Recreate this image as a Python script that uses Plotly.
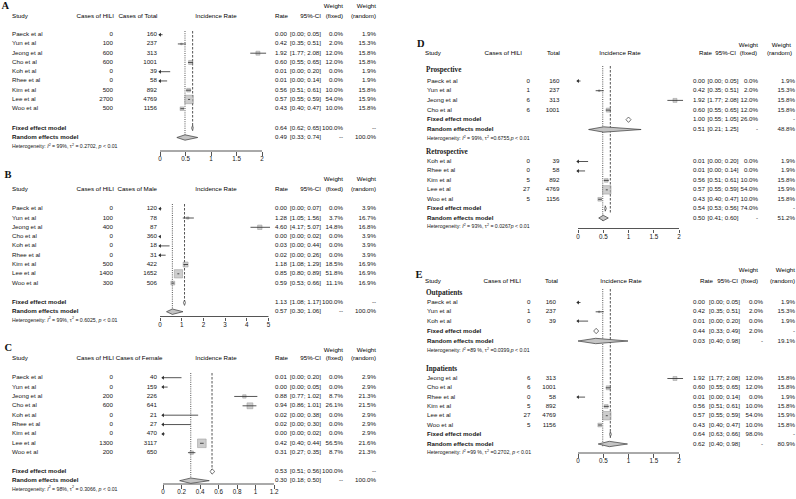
import math
import plotly.graph_objects as go

W, H = 796, 499

# ======================= DATA =======================
# Panel A - all patients
A_study = ["Paeck et al", "Yun et al", "Jeong et al", "Cho et al", "Koh et al",
           "Rhee et al", "Kim et al", "Lee et al", "Woo et al"]
A_cases = [0, 100, 600, 600, 0, 0, 500, 2700, 500]
A_total = [160, 237, 313, 1001, 39, 58, 892, 4769, 1156]
A_rate = [0.00, 0.42, 1.92, 0.60, 0.01, 0.01, 0.56, 0.57, 0.43]
A_lo = [0.00, 0.35, 1.77, 0.55, 0.00, 0.00, 0.51, 0.55, 0.40]
A_hi = [0.05, 0.51, 2.08, 0.65, 0.20, 0.14, 0.61, 0.59, 0.47]
A_wf = [0.0, 2.0, 12.0, 12.0, 0.0, 0.0, 10.0, 54.0, 10.0]
A_wr = [1.9, 15.3, 15.8, 15.8, 1.9, 1.9, 15.8, 15.9, 15.8]
A_sum_rate = [0.64, 0.49]          # fixed, random
A_sum_lo = [0.62, 0.33]
A_sum_hi = [0.65, 0.74]
A_sum_wf = ["100.0%", "--"]
A_sum_wr = ["--", "100.0%"]
A_het = "Heterogeneity: <i>I</i><sup>2</sup> = 99%, τ<sup>2</sup> = 0.2702, <i>p</i> < 0.01"
A_ticks = [0, 0.5, 1, 1.5, 2]

# Panel B - male
B_study = A_study
B_cases = [0, 100, 400, 0, 0, 0, 500, 1400, 300]
B_total = [120, 78, 87, 360, 18, 31, 422, 1652, 506]
B_rate = [0.00, 1.28, 4.60, 0.00, 0.03, 0.02, 1.18, 0.85, 0.59]
B_lo = [0.00, 1.05, 4.17, 0.00, 0.00, 0.00, 1.08, 0.80, 0.53]
B_hi = [0.07, 1.56, 5.07, 0.02, 0.44, 0.26, 1.29, 0.89, 0.66]
B_wf = [0.0, 3.7, 14.8, 0.0, 0.0, 0.0, 18.5, 51.8, 11.1]
B_wr = [3.9, 16.7, 16.8, 3.9, 3.9, 3.9, 16.9, 16.9, 16.9]
B_sum_rate = [1.13, 0.57]
B_sum_lo = [1.08, 0.30]
B_sum_hi = [1.17, 1.06]
B_sum_wf = ["100.0%", "--"]
B_sum_wr = ["--", "100.0%"]
B_het = "Heterogeneity: <i>I</i><sup>2</sup> = 99%, τ<sup>2</sup> = 0.6025, <i>p</i> < 0.01"
B_ticks = [0, 1, 2, 3, 4, 5]

# Panel C - female
C_study = A_study
C_cases = [0, 0, 200, 600, 0, 0, 0, 1300, 200]
C_total = [40, 159, 226, 641, 21, 27, 470, 3117, 650]
C_rate = [0.01, 0.00, 0.88, 0.94, 0.02, 0.02, 0.00, 0.42, 0.31]
C_lo = [0.00, 0.00, 0.77, 0.86, 0.00, 0.00, 0.00, 0.40, 0.27]
C_hi = [0.20, 0.05, 1.02, 1.01, 0.38, 0.30, 0.02, 0.44, 0.35]
C_wf = [0.0, 0.0, 8.7, 26.1, 0.0, 0.0, 0.0, 56.5, 8.7]
C_wr = [2.9, 2.9, 21.3, 21.5, 2.9, 2.9, 2.9, 21.6, 21.3]
C_sum_rate = [0.53, 0.30]
C_sum_lo = [0.51, 0.18]
C_sum_hi = [0.56, 0.50]
C_sum_wf = ["100.0%", "--"]
C_sum_wr = ["--", "100.0%"]
C_het = "Heterogeneity: <i>I</i><sup>2</sup> = 98%, τ<sup>2</sup> = 0.3066, <i>p</i> < 0.01"
C_ticks = [0, 0.2, 0.4, 0.6, 0.8, 1, 1.2]

# Panel D - study design subgroups
D_pro_label = "Prospective"
D_pro_study = ["Paeck et al", "Yun et al", "Jeong et al", "Cho et al"]
D_pro_cases = [0, 1, 6, 6]
D_pro_total = [160, 237, 313, 1001]
D_pro_rate = [0.00, 0.42, 1.92, 0.60]
D_pro_lo = [0.00, 0.35, 1.77, 0.55]
D_pro_hi = [0.05, 0.51, 2.08, 0.65]
D_pro_wf = [0.0, 2.0, 12.0, 12.0]
D_pro_wr = [1.9, 15.3, 15.8, 15.8]
D_pro_sum_rate = [1.00, 0.51]
D_pro_sum_lo = [0.55, 0.21]
D_pro_sum_hi = [1.05, 1.25]
D_pro_sum_wf = ["26.0%", "-"]
D_pro_sum_wr = ["-", "48.8%"]
D_pro_dia_c = [1.00, 0.51]         # diamonds as drawn in the picture
D_pro_dia_lo = [0.95, 0.21]
D_pro_dia_hi = [1.05, 1.25]
D_pro_het = "Heterogeneity: <i>I</i><sup>2</sup> = 99%, τ<sup>2</sup> =0.6755,<i>p</i> < 0.01"

D_ret_label = "Retrospective"
D_ret_study = ["Koh et al", "Rhee et al", "Kim et al", "Lee et al", "Woo et al"]
D_ret_cases = [0, 0, 5, 27, 5]
D_ret_total = [39, 58, 892, 4769, 1156]
D_ret_rate = [0.01, 0.01, 0.56, 0.57, 0.43]
D_ret_lo = [0.00, 0.00, 0.51, 0.55, 0.40]
D_ret_hi = [0.20, 0.14, 0.61, 0.59, 0.47]
D_ret_wf = [0.0, 0.0, 10.0, 54.0, 10.0]
D_ret_wr = [1.9, 1.9, 15.8, 15.9, 15.8]
D_ret_sum_rate = [0.54, 0.50]
D_ret_sum_lo = [0.53, 0.41]
D_ret_sum_hi = [0.56, 0.60]
D_ret_sum_wf = ["74.0%", "-"]
D_ret_sum_wr = ["-", "51.2%"]
D_ret_het = "Heterogeneity: <i>I</i><sup>2</sup> = 93%, τ<sup>2</sup> = 0.0267<i>p</i> < 0.01"
D_overall = [0.64, 0.49]           # reference lines: fixed, random
D_ticks = [0, 0.5, 1, 1.5, 2]

# Panel E - setting subgroups
E_out_label = "Outpatients"
E_out_study = ["Paeck et al", "Yun et al", "Koh et al"]
E_out_cases = [0, 1, 0]
E_out_total = [160, 237, 39]
E_out_rate = [0.00, 0.42, 0.01]
E_out_lo = [0.00, 0.35, 0.00]
E_out_hi = [0.05, 0.51, 0.20]
E_out_wf = [0.0, 2.0, 0.0]
E_out_wr = [1.9, 15.3, 1.9]
E_out_sum_rate = [0.44, 0.03]
E_out_sum_lo = [0.33, 0.40]
E_out_sum_hi = [0.49, 0.98]
E_out_sum_wf = ["2.0%", "-"]
E_out_sum_wr = ["-", "19.1%"]
E_out_dia_c = [0.36, 0.35]
E_out_dia_lo = [0.31, 0.00]
E_out_dia_hi = [0.41, 0.99]
E_out_het = "Heterogeneity: <i>I</i><sup>2</sup> =89 %, τ<sup>2</sup> =0.0399,<i>p</i> < 0.01"

E_in_label = "Inpatients"
E_in_study = ["Jeong et al", "Cho et al", "Rhee et al", "Kim et al", "Lee et al", "Woo et al"]
E_in_cases = [6, 6, 0, 5, 27, 5]
E_in_total = [313, 1001, 58, 892, 4769, 1156]
E_in_rate = [1.92, 0.60, 0.01, 0.56, 0.57, 0.43]
E_in_lo = [1.77, 0.55, 0.00, 0.51, 0.55, 0.40]
E_in_hi = [2.08, 0.65, 0.14, 0.61, 0.59, 0.47]
E_in_wf = [12.0, 12.0, 0.0, 10.0, 54.0, 10.0]
E_in_wr = [15.8, 15.8, 1.9, 15.8, 15.9, 15.8]
E_in_sum_rate = [0.64, 0.62]
E_in_sum_lo = [0.63, 0.40]
E_in_sum_hi = [0.66, 0.98]
E_in_sum_wf = ["98.0%", "-"]
E_in_sum_wr = ["-", "80.9%"]
E_in_het = "Heterogeneity: <i>I</i><sup>2</sup> =99 %, τ<sup>2</sup> =0.2702, <i>p</i> < 0.01"
E_overall = [0.64, 0.49]
E_ticks = [0, 0.5, 1, 1.5, 2]

SUM_LABELS = ["Fixed effect model", "Random effects model"]
HEAD_LEFT = ["Study", "Cases of HILI", None, "Incidence Rate", "Rate", "95%-CI", "(fixed)", "(random)"]
THIRD_HEAD = {"A": "Cases of Total", "B": "Cases of Male", "C": "Cases of Female",
              "D": "Total", "E": "Total"}

# ======================= STYLE =======================
SANS = "Liberation Sans, Arial, sans-serif"
SERIF = "Liberation Serif, Times New Roman, serif"
TXT = "#161616"
LINE = "#2a2a2a"
FS = 6.2
traces = []


def txt(xs, ys, texts, anchor, size=FS, family=SANS, color=TXT):
    pos = {"l": "middle right", "r": "middle left", "c": "middle center"}[anchor]
    traces.append(go.Scatter(x=list(xs), y=list(ys), text=list(texts), mode="text",
                             textposition=pos,
                             textfont=dict(size=size, family=family, color=color),
                             xaxis="x6", yaxis="y", hoverinfo="skip",
                             showlegend=False, cliponaxis=False))


def rows(start, step, n):
    return [start + step * i for i in range(n)]


def study_marks(ax, ys, rate, lo, hi, wf):
    # squares (weight-proportional)
    sx, sy, ss = [], [], []
    for r, y, w in zip(rate, ys, wf):
        if w > 0:
            sx.append(r); sy.append(y); ss.append(1.15 * math.sqrt(w))
    traces.append(go.Scatter(x=sx, y=sy, mode="markers", xaxis=ax, yaxis="y",
                             marker=dict(symbol="square", size=ss, color="#b8b8b8",
                                         line=dict(color="#6a6a6a", width=0.5)),
                             hoverinfo="skip", showlegend=False, cliponaxis=False))
    # CI lines
    lx, ly = [], []
    for y, l, h in zip(ys, lo, hi):
        lx += [l, h, None]; ly += [y, y, None]
    traces.append(go.Scatter(x=lx, y=ly, mode="lines", xaxis=ax, yaxis="y",
                             line=dict(color=LINE, width=0.8),
                             hoverinfo="skip", showlegend=False))
    # arrows for CIs touching the lower limit
    axx = [l for l in lo if l <= 0]
    ayy = [y for l, y in zip(lo, ys) if l <= 0]
    traces.append(go.Scatter(x=axx, y=ayy, mode="markers", xaxis=ax, yaxis="y",
                             marker=dict(symbol="triangle-left", size=3.4, color=LINE,
                                         line=dict(width=0)),
                             hoverinfo="skip", showlegend=False, cliponaxis=False))


def diamond(ax, c, l, h, y, fill, hh=2.7):
    traces.append(go.Scatter(x=[l, c, h, c, l], y=[y, y - hh, y, y + hh, y],
                             mode="lines", fill="toself", fillcolor=fill,
                             line=dict(color="#3a3a3a", width=0.7),
                             xaxis=ax, yaxis="y", hoverinfo="skip", showlegend=False))


def vline(ax, x, y0, y1, dash):
    traces.append(go.Scatter(x=[x, x], y=[y0, y1], mode="lines", xaxis=ax, yaxis="y",
                             line=dict(color=LINE, width=0.8, dash=dash),
                             hoverinfo="skip", showlegend=False))


layout_axes = {}


def forest_axis(k, x0, scale, r0, r1, ticks, axis_y):
    name = "xaxis" if k == 1 else f"xaxis{k}"
    layout_axes[name] = dict(
        domain=[(x0 + r0 * scale) / W, (x0 + r1 * scale) / W], range=[r0, r1],
        anchor="free", position=1 - axis_y / H,
        tickmode="array", tickvals=ticks, ticktext=[f"{t:g}" for t in ticks],
        ticks="outside", ticklen=3.5, tickwidth=0.8, tickcolor=LINE,
        ticklabelstandoff=-2,
        showline=False, showgrid=False, zeroline=False, fixedrange=True,
        tickfont=dict(size=6.3, family=SANS, color=TXT))
    ax = "x" if k == 1 else f"x{k}"
    traces.append(go.Scatter(x=[ticks[0], ticks[-1]], y=[axis_y, axis_y], mode="lines",
                             xaxis=ax, yaxis="y", line=dict(color=LINE, width=0.8),
                             hoverinfo="skip", showlegend=False))
    return ax


def fmt_ci(l, h):
    return f"[{l:.2f}; {h:.2f}]"


def group_text(cols, ys, study, cases, total, rate, lo, hi, wf, wr):
    txt([cols["name"]] * len(ys), ys, study, "l")
    txt([cols["cases"]] * len(ys), ys, [str(v) for v in cases], "r")
    txt([cols["total"]] * len(ys), ys, [str(v) for v in total], "r")
    txt([cols["rate"]] * len(ys), ys, [f"{v:.2f}" for v in rate], "r")
    txt([cols["ci"]] * len(ys), ys, [fmt_ci(l, h) for l, h in zip(lo, hi)], "r")
    txt([cols["wf"]] * len(ys), ys, [f"{v:.1f}%" for v in wf], "r")
    txt([cols["wr"]] * len(ys), ys, [f"{v:.1f}%" for v in wr], "r")


def summary_text(cols, ys, rate, lo, hi, wf, wr, het, het_y):
    txt([cols["name"]] * 2, ys, [f"<b>{s}</b>" for s in SUM_LABELS], "l")
    txt([cols["rate"]] * 2, ys, [f"{v:.2f}" for v in rate], "r")
    txt([cols["ci"]] * 2, ys, [fmt_ci(l, h) for l, h in zip(lo, hi)], "r")
    txt([cols["wf"]] * 2, ys, wf, "r")
    txt([cols["wr"]] * 2, ys, wr, "r")
    txt([cols["name"]], [het_y], [het], "l", size=5.2)


def headers(letter, letter_xy, hx, head_y, weight_y):
    txt([letter_xy[0]], [letter_xy[1]], [f"<b>{letter}</b>"], "l", size=10.5, family=SERIF,
        color="#111")
    labels = list(HEAD_LEFT)
    labels[2] = THIRD_HEAD[letter]
    for lab, (x, a) in zip(labels, hx["cols"]):
        txt([x], [head_y], [lab], a, size=6.2, color="#000")
    txt([hx["w1"], hx["w2"]], [weight_y] * 2, ["Weight"] * 2, "r", size=6.2, color="#000")


# ======================= LEFT PANELS (A, B, C) =======================
left_cols = dict(name=12, cases=113, total=157, rate=287, ci=321, wf=343, wr=376)


def left_head(third_right):
    return dict(cols=[(12, "l"), (114, "r"), (third_right, "r"), (216, "c"), (288, "r"),
                      (321, "r"), (343, "r"), (376, "r")], w1=343, w2=376)


left_panels = [
    dict(k=1, letter="A", lxy=(1.5, 6.5), head_y=16.7, weight_y=6.7, third=157.5,
         first=34.7, step=9.25, fixed_y=128, random_y=137.5, het_y=146.5, axis_y=151,
         x0=160, scale=51, r=(-0.22, 2.25), ticks=A_ticks, line_top=31,
         d=(A_study, A_cases, A_total, A_rate, A_lo, A_hi, A_wf, A_wr),
         s=(A_sum_rate, A_sum_lo, A_sum_hi, A_sum_wf, A_sum_wr), het=A_het),
    dict(k=2, letter="B", lxy=(4.5, 175), head_y=189.3, weight_y=179.3, third=157,
         first=208.7, step=9.3, fixed_y=302.7, random_y=311.7, het_y=320.3, axis_y=316.5,
         x0=160, scale=21.7, r=(-0.5, 5.5), ticks=B_ticks, line_top=204,
         d=(B_study, B_cases, B_total, B_rate, B_lo, B_hi, B_wf, B_wr),
         s=(B_sum_rate, B_sum_lo, B_sum_hi, B_sum_wf, B_sum_wr), het=B_het),
    dict(k=3, letter="C", lxy=(4.5, 348.5), head_y=358.3, weight_y=350, third=162.5,
         first=377.7, step=9.37, fixed_y=471.5, random_y=480.7, het_y=489.3, axis_y=484,
         x0=163, scale=92.5, r=(-0.12, 1.3), ticks=C_ticks, line_top=373,
         d=(C_study, C_cases, C_total, C_rate, C_lo, C_hi, C_wf, C_wr),
         s=(C_sum_rate, C_sum_lo, C_sum_hi, C_sum_wf, C_sum_wr), het=C_het),
]

for p in left_panels:
    study, cases, total, rate, lo, hi, wf, wr = p["d"]
    srate, slo, shi, swf, swr = p["s"]
    ys = rows(p["first"], p["step"], len(study))
    ax = forest_axis(p["k"], p["x0"], p["scale"], p["r"][0], p["r"][1], p["ticks"], p["axis_y"])
    headers(p["letter"], p["lxy"], left_head(p["third"]), p["head_y"], p["weight_y"])
    vline(ax, srate[0], p["line_top"], p["fixed_y"], "2.5px,1.5px")
    vline(ax, srate[1], p["line_top"], p["random_y"] + 2.5, "1px,1.2px")
    study_marks(ax, ys, rate, lo, hi, wf)
    diamond(ax, srate[0], slo[0], shi[0], p["fixed_y"], "white")
    diamond(ax, srate[1], slo[1], shi[1], p["random_y"], "#c4c4c4")
    group_text(left_cols, ys, study, cases, total, rate, lo, hi, wf, wr)
    summary_text(left_cols, [p["fixed_y"], p["random_y"]], srate, slo, shi, swf, swr,
                 p["het"], p["het_y"])

# ======================= RIGHT PANELS (D, E) =======================
right_panels = [
    dict(k=4, letter="D", lxy=(417, 44.5), head_y=53.3, weight_y=45,
         cols=dict(name=427, cases=530, total=559.5, rate=705, ci=738.5, wf=758, wr=795),
         head=dict(cols=[(425, "l"), (522, "r"), (560, "r"), (620, "c"), (712, "r"),
                         (736, "r"), (757, "r"), (792, "r")], w1=758, w2=791),
         x0=578, scale=50.5, r=(-0.22, 2.3), ticks=D_ticks, axis_y=228.5,
         overall=D_overall, line_top=66, dash_bot=213, dot_bot=222,
         groups=[
             dict(label=D_pro_label, label_y=70.5, first=81, step=9.7,
                  fixed_y=119.7, random_y=129.5, het_y=138.5,
                  d=(D_pro_study, D_pro_cases, D_pro_total, D_pro_rate, D_pro_lo,
                     D_pro_hi, D_pro_wf, D_pro_wr),
                  s=(D_pro_sum_rate, D_pro_sum_lo, D_pro_sum_hi, D_pro_sum_wf, D_pro_sum_wr),
                  dia=(D_pro_dia_c, D_pro_dia_lo, D_pro_dia_hi), het=D_pro_het),
             dict(label=D_ret_label, label_y=152, first=161.5, step=9.45,
                  fixed_y=208.5, random_y=218, het_y=226.5,
                  d=(D_ret_study, D_ret_cases, D_ret_total, D_ret_rate, D_ret_lo,
                     D_ret_hi, D_ret_wf, D_ret_wr),
                  s=(D_ret_sum_rate, D_ret_sum_lo, D_ret_sum_hi, D_ret_sum_wf, D_ret_sum_wr),
                  dia=(D_ret_sum_rate, D_ret_sum_lo, D_ret_sum_hi), het=D_ret_het),
         ]),
    dict(k=5, letter="E", lxy=(415.5, 275), head_y=281.7, weight_y=270,
         cols=dict(name=427, cases=530.5, total=556, rate=705, ci=740, wf=763, wr=795),
         head=dict(cols=[(425, "l"), (521, "r"), (558, "r"), (621, "c"), (713, "r"),
                         (738, "r"), (758, "r"), (795, "r")], w1=758, w2=795),
         x0=578, scale=50.5, r=(-0.22, 2.3), ticks=E_ticks, axis_y=453,
         overall=E_overall, line_top=289, dash_bot=438, dot_bot=447,
         groups=[
             dict(label=E_out_label, label_y=293, first=302.5, step=9.3,
                  fixed_y=331, random_y=341, het_y=350.5,
                  d=(E_out_study, E_out_cases, E_out_total, E_out_rate, E_out_lo,
                     E_out_hi, E_out_wf, E_out_wr),
                  s=(E_out_sum_rate, E_out_sum_lo, E_out_sum_hi, E_out_sum_wf, E_out_sum_wr),
                  dia=(E_out_dia_c, E_out_dia_lo, E_out_dia_hi), het=E_out_het),
             dict(label=E_in_label, label_y=369, first=378.5, step=9.3,
                  fixed_y=434.3, random_y=444, het_y=453,
                  d=(E_in_study, E_in_cases, E_in_total, E_in_rate, E_in_lo,
                     E_in_hi, E_in_wf, E_in_wr),
                  s=(E_in_sum_rate, E_in_sum_lo, E_in_sum_hi, E_in_sum_wf, E_in_sum_wr),
                  dia=(E_in_sum_rate, E_in_sum_lo, E_in_sum_hi), het=E_in_het),
         ]),
]

for p in right_panels:
    ax = forest_axis(p["k"], p["x0"], p["scale"], p["r"][0], p["r"][1], p["ticks"], p["axis_y"])
    headers(p["letter"], p["lxy"], p["head"], p["head_y"], p["weight_y"])
    vline(ax, p["overall"][0], p["line_top"], p["dash_bot"], "2.5px,1.5px")
    vline(ax, p["overall"][1], p["line_top"], p["dot_bot"], "1px,1.2px")
    for g in p["groups"]:
        study, cases, total, rate, lo, hi, wf, wr = g["d"]
        srate, slo, shi, swf, swr = g["s"]
        dc, dl, dh = g["dia"]
        ys = rows(g["first"], g["step"], len(study))
        txt([p["cols"]["name"] - 1], [g["label_y"]], [f"<b>{g['label']}</b>"], "l",
            size=7.2, family=SERIF, color="#222")
        study_marks(ax, ys, rate, lo, hi, wf)
        diamond(ax, dc[0], dl[0], dh[0], g["fixed_y"], "white")
        diamond(ax, dc[1], dl[1], dh[1], g["random_y"], "#c4c4c4")
        group_text(p["cols"], ys, study, cases, total, rate, lo, hi, wf, wr)
        summary_text(p["cols"], [g["fixed_y"], g["random_y"]], srate, slo, shi, swf, swr,
                     g["het"], g["het_y"])

# ======================= FIGURE =======================
fig = go.Figure(data=traces)
fig.update_layout(
    width=W, height=H, margin=dict(l=0, r=0, t=0, b=0),
    paper_bgcolor="white", plot_bgcolor="rgba(0,0,0,0)", showlegend=False,
    xaxis6=dict(domain=[0, 1], range=[0, W], visible=False, anchor="y", fixedrange=True),
    yaxis=dict(domain=[0, 1], range=[H, 0], visible=False, anchor="x6", fixedrange=True),
    **layout_axes,
)
fig.write_html("out.html", config={"displayModeBar": False, "staticPlot": True},
               post_script="document.body.style.margin='0';")
